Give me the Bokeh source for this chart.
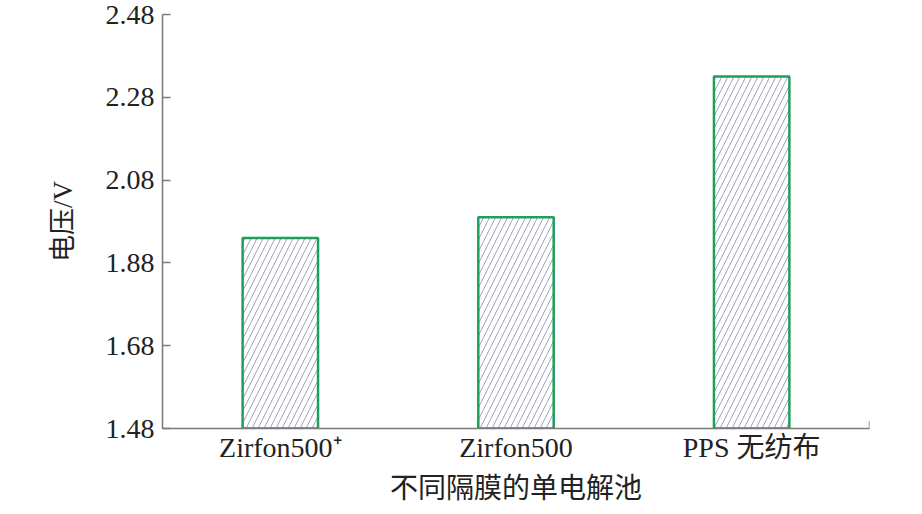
from bokeh.plotting import figure
from bokeh.models import Range1d, FixedTicker, ColumnDataSource
from bokeh.embed import file_html
from bokeh.resources import INLINE

categories = ["Zirfon500⁺", "Zirfon500", "PPS 无纺布"]
voltages = [1.94, 1.99, 2.33]
y_ticks = [1.48, 1.68, 1.88, 2.08, 2.28, 2.48]
y_tick_labels = ["1.48", "1.68", "1.88", "2.08", "2.28", "2.48"]
x_label = "不同隔膜的单电解池"
y_label = "电压/V"

FONT = "'Liberation Serif', 'Noto Sans CJK SC', serif"
AXIS_COLOR = "#7a7a7a"

p = figure(width=914, height=506, x_range=categories,
           y_range=Range1d(y_ticks[0], y_ticks[-1]),
           output_backend="svg", toolbar_location=None,
           min_border_left=162, min_border_right=45,
           min_border_top=14, min_border_bottom=77)
p.x_range.range_padding = 0
p.outline_line_color = None
p.xgrid.visible = False
p.ygrid.visible = False

src = ColumnDataSource(dict(x=categories, top=voltages))
p.vbar(x="x", top="top", bottom=y_ticks[0], width=0.32, source=src,
       fill_color="white", line_color="#1f9e5c", line_width=2.5,
       hatch_pattern="/", hatch_color="#9a9ab4", hatch_scale=12, hatch_weight=0.9)

# end tick on x axis (inside), at the right end of the range
p.segment(x0=[(categories[-1], 0.5)], x1=[(categories[-1], 0.5)],
          y0=[y_ticks[0]], y1=[y_ticks[0] + 0.018],
          line_color=AXIS_COLOR, line_width=1.5)

yax = p.yaxis[0]
yax.ticker = FixedTicker(ticks=y_ticks)
yax.major_label_overrides = {t: l for t, l in zip(y_ticks, y_tick_labels)}
yax.major_tick_in = 8
yax.major_tick_out = 0
yax.minor_tick_in = 0
yax.minor_tick_out = 0
yax.axis_line_color = AXIS_COLOR
yax.major_tick_line_color = AXIS_COLOR
yax.axis_line_width = 1.5
yax.major_tick_line_width = 1.5
yax.major_label_text_font = FONT
yax.major_label_text_font_size = "28px"
yax.major_label_text_color = "#222222"
yax.major_label_standoff = 8
yax.axis_label = y_label
yax.axis_label_text_font = FONT
yax.axis_label_text_font_size = "27px"
yax.axis_label_text_font_style = "normal"
yax.axis_label_text_color = "#222222"
yax.axis_label_standoff = 25

xax = p.xaxis[0]
xax.major_tick_in = 0
xax.major_tick_out = 0
xax.axis_line_color = AXIS_COLOR
xax.axis_line_width = 1.5
xax.major_label_text_font = FONT
xax.major_label_text_font_size = "28px"
xax.major_label_text_color = "#222222"
xax.major_label_standoff = 3
xax.axis_label = x_label
xax.axis_label_text_font = FONT
xax.axis_label_text_font_size = "28px"
xax.axis_label_text_font_style = "normal"
xax.axis_label_text_color = "#222222"
xax.axis_label_standoff = 7

open("out.html", "w").write(file_html(p, INLINE))
